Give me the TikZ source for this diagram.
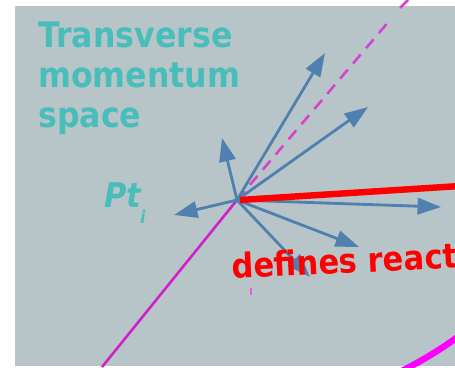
\documentclass[tikz,border=0pt]{standalone}
\usepackage{fontspec}
\setmainfont[FakeStretch=0.9]{DejaVu Sans}
\usetikzlibrary{
    arrows.meta,
    positioning
}
\definecolor{panelgray}{HTML}{B8C5C8}
\definecolor{tealtext}{HTML}{48BDBA}
\definecolor{momblue}{HTML}{5080B0}
\definecolor{planemag}{HTML}{D020C8}
\definecolor{arcmag}{HTML}{FF00FF}
\tikzstyle{title} = [
    text=tealtext,
    align=left,
    inner sep=0pt,
    font=\bfseries\fontsize{30}{34}\selectfont
]
\tikzstyle{ptlabel} = [
    text=tealtext,
    inner sep=0pt,
    font=\bfseries\itshape\fontsize{29}{32}\selectfont
]
\tikzstyle{redlabel} = [
    text=red,
    inner sep=0pt,
    font=\bfseries\fontsize{29}{32}\selectfont
]
\tikzstyle{momentum} = [
    -{Triangle[length=20pt, width=14pt]},
    line width=2.4pt,
    draw=momblue
]
\tikzstyle{plane} = [
    line width=2.2pt,
    draw=planemag
]

\begin{document}
\begin{tikzpicture}[x=0.03cm, y=-0.03cm]
    \clip (0,0) rectangle (455,367);
    \fill[white] (0,0) rectangle (455,367);
    \fill[panelgray] (15,6) rectangle (455,366);

    % Collision point
    \coordinate (vtx) at (237,200);

    % Reaction plane line
    \coordinate (planelow) at (102,367);
    \coordinate (planetop) at (408,0);
    \coordinate (planegap) at (390,20);
    \draw[plane] (planelow) -- (vtx);
    \draw[plane, draw=planemag!85, dash pattern=on 10pt off 7pt] (vtx) -- (planegap);
    \draw[plane, draw=planemag!85] (planegap) ++(10,-12) -- (planetop);
    \draw[draw=planemag!70, line width=0.9pt] (251,288) -- (251,295);

    % Particle momenta
    \coordinate (p1) at (325,53);
    \coordinate (p2) at (368,107);
    \coordinate (p3) at (222,138);
    \coordinate (p4) at (174,215);
    \coordinate (p5) at (441,207);
    \coordinate (p6) at (359,247);
    \coordinate (p7) at (310,277);
    \draw[momentum] (vtx) -- (p1);
    \draw[momentum] (vtx) -- (p2);
    \draw[momentum] (vtx) -- (p3);
    \draw[momentum] (vtx) -- (p4);
    \draw[momentum] (vtx) -- (p5);
    \draw[momentum] (vtx) -- (p6);
    \draw[momentum] (vtx) -- (p7);

    % Event plane direction
    \coordinate (evplane) at (460,186);
    \draw[red, line width=5.5pt] (240,200) -- (evplane);

    % Outer ring
    \coordinate (ringa) at (400,372);
    \coordinate (ringb) at (462,334);
    \draw[arcmag, line width=5.5pt] (ringa) to[bend right=4] (ringb);

    % Labels
    \node[title, anchor=base west] (space) at (38,127)
        {Transverse\\momentum\\space};
    \node[ptlabel, anchor=base west] (pti) at (104,207)
        {Pt\kern-1pt\raisebox{-14pt}{\fontsize{15}{16}\selectfont i}};
    \node[redlabel, anchor=base west, rotate=2.8] (defines) at (232,279)
        {defines react};
\end{tikzpicture}
\end{document}
